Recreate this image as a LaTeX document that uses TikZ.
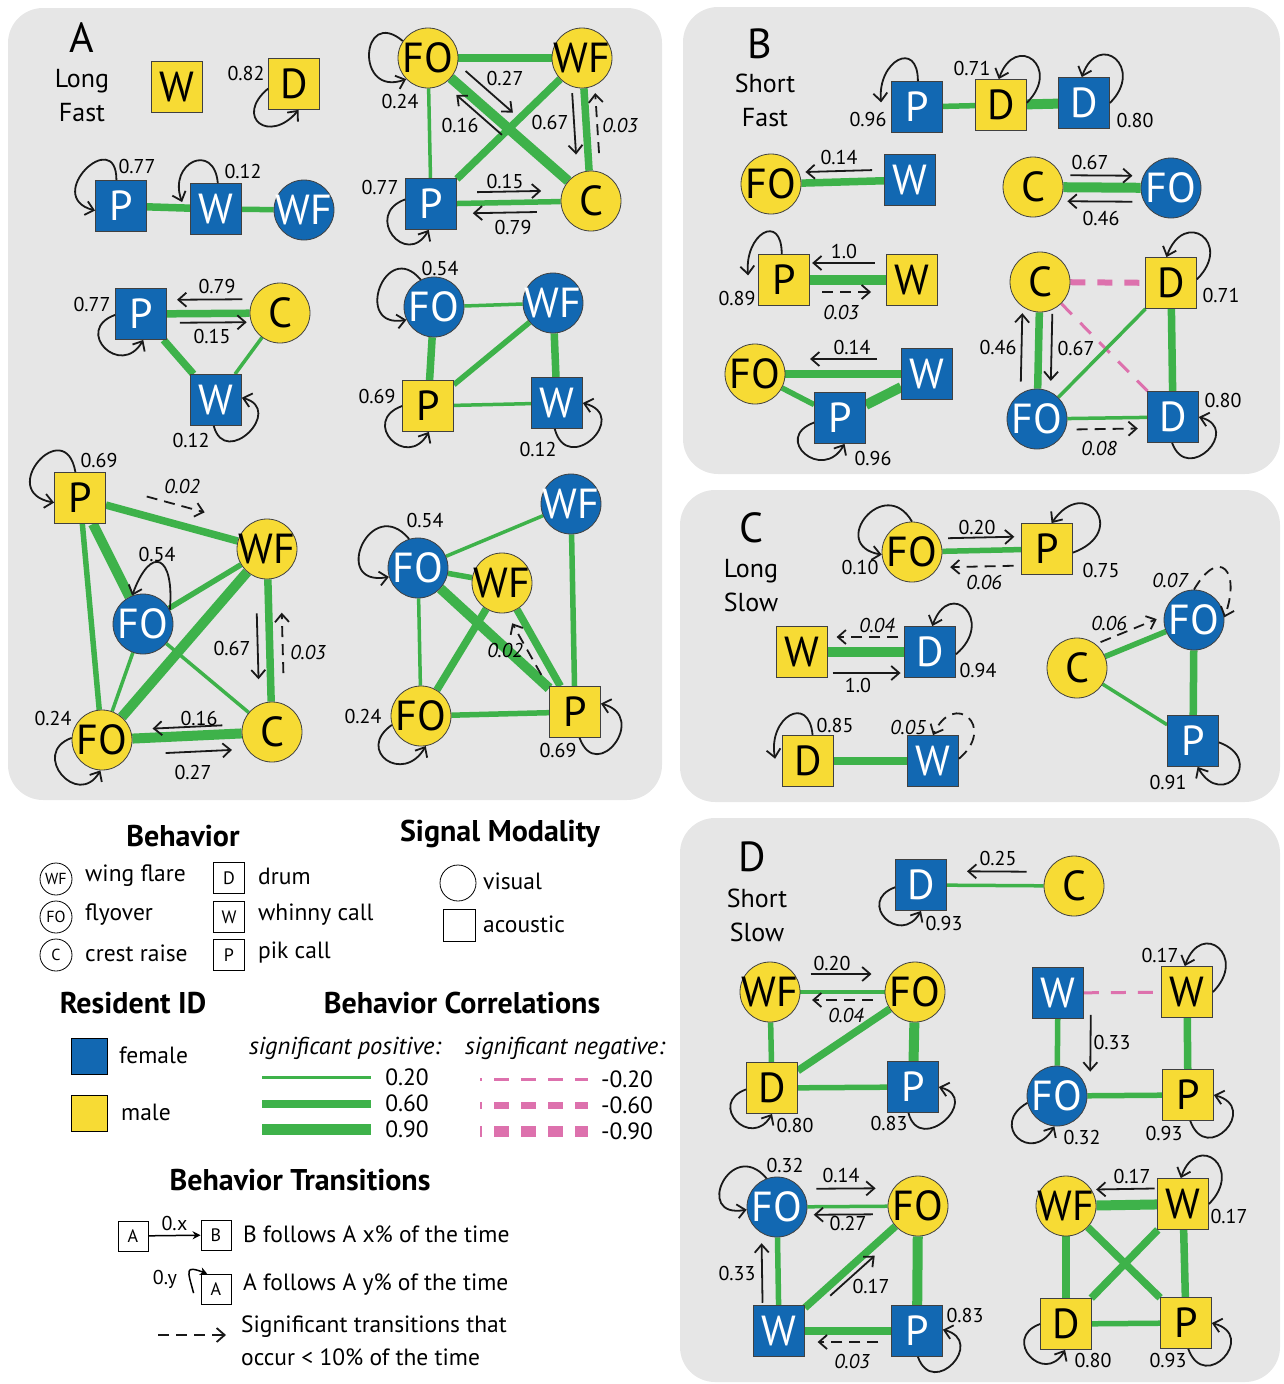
\documentclass[tikz,border=0pt]{standalone}
\usepackage{fontspec}
\setmainfont{PT Sans}
\usetikzlibrary{arrows.meta, calc}

\definecolor{fblue}{RGB}{18,104,178}
\definecolor{myell}{RGB}{247,219,52}
\definecolor{cgreen}{RGB}{62,178,74}
\definecolor{npink}{RGB}{221,113,173}
\definecolor{pgray}{RGB}{230,230,230}

\pgfdeclarelayer{panel}
\pgfdeclarelayer{edges}
\pgfsetlayers{panel,edges,main}

% transition arrow beside the line (from)--(to): [style]{from}{to}{t1}{t2}{offset}{label}
\newcommand{\trans}[7][tra]{%
  \draw[#1] ($(#2)!#4!(#3)!#6!90:(#3)$) -- ($(#2)!#5!(#3)!#6!90:(#3)$) #7;}

\tikzset{
  nbase/.style={draw=black!75, line width=0.8pt, inner sep=0pt, font=\fontsize{42}{42}\selectfont},
  sqn/.style={nbase, rectangle, minimum size=51pt},
  cin/.style={nbase, circle, minimum size=60pt, inner sep=-3pt},
  fsq/.style={sqn, fill=fblue, text=white},
  msq/.style={sqn, fill=myell},
  fci/.style={cin, fill=fblue, text=white},
  mci/.style={cin, fill=myell},
  cthin/.style={draw=cgreen, line width=3.5pt},
  cmid/.style={draw=cgreen, line width=5.5pt},
  cthick/.style={draw=cgreen, line width=7.5pt},
  cmax/.style={draw=cgreen, line width=10pt},
  nthin/.style={draw=npink, line width=3pt, dash pattern=on 15pt off 12pt},
  nmid/.style={draw=npink, line width=6pt, dash pattern=on 15pt off 12pt},
  tra/.style={draw=black!90, line width=1.8pt, -{Straight Barb[length=8pt,width=14pt]}},
  trd/.style={tra, dash pattern=on 11pt off 7pt},
  lp/.style={tra, distance=50pt},
  lpd/.style={lp, dash pattern=on 11pt off 7pt},
  lab/.style={font=\fontsize{20}{20}\selectfont, inner sep=0pt},
  labi/.style={font=\fontsize{20}{20}\selectfont\itshape, inner sep=0pt},
  ptitle/.style={font=\fontsize{42}{42}\selectfont},
  psub/.style={font=\fontsize{26}{34}\selectfont, align=center},
  head/.style={font=\fontsize{30}{30}\selectfont\bfseries},
  ltx/.style={font=\fontsize{23.5}{23.5}\selectfont, anchor=west, inner sep=0pt},
  lti/.style={font=\fontsize{24.5}{24.5}\selectfont\itshape, inner sep=0pt},
  lci/.style={draw=black, line width=0.8pt, circle, minimum size=32pt, inner sep=-2pt, font=\fontsize{16}{16}\selectfont},
  lsq/.style={draw=black, line width=0.8pt, rectangle, minimum size=31pt, inner sep=0pt, font=\fontsize{18}{18}\selectfont},
}

\begin{document}
\begin{tikzpicture}[x=1pt,y=1pt]
\useasboundingbox (0,0) rectangle (1284,-1384);

% panels
\begin{pgfonlayer}{panel}
\fill[pgray, rounded corners=35pt] (8,-8) rectangle (662,-800);
\fill[pgray, rounded corners=35pt] (683,-7) rectangle (1280,-474);
\fill[pgray, rounded corners=35pt] (680,-490) rectangle (1280,-802);
\fill[pgray, rounded corners=35pt] (680,-818) rectangle (1280,-1382);
\end{pgfonlayer}

\node[ptitle] (tiA) at (82,-38) {A};
\node[psub] (suA) at (82,-96) {Long\\Fast};
\node[ptitle] (tiB) at (760,-44) {B};
\node[psub] (suB) at (765,-100) {Short\\Fast};
\node[ptitle] (tiC) at (751,-528) {C};
\node[psub] (suC) at (751,-586) {Long\\Slow};
\node[ptitle] (tiD) at (752,-857) {D};
\node[psub] (suD) at (757,-915) {Short\\Slow};

% ---- A: long fast
\node[msq] (aW) at (177,-87) {W};
\node[msq] (aD) at (294,-84) {D};
\node[fsq] (bP) at (121,-206) {P};
\node[fsq] (bW) at (216,-209) {W};
\node[fci] (bWF) at (304,-210) {WF};
\node[mci] (cFO) at (428,-58) {FO};
\node[mci] (cWF) at (582,-58) {WF};
\node[fsq] (cP) at (431,-204) {P};
\node[mci] (cC) at (591,-201) {C};
\node[fsq] (dP) at (141,-314) {P};
\node[mci] (dC) at (280,-313) {C};
\node[fsq] (dW) at (216,-400) {W};
\node[fci] (eFO) at (434,-307) {FO};
\node[fci] (eWF) at (553,-303) {WF};
\node[msq] (eP) at (428,-406) {P};
\node[fsq] (eW) at (557,-403) {W};
\node[msq] (fP) at (80,-498) {P};
\node[mci] (fWF) at (267,-549) {WF};
\node[fci] (fFOb) at (143,-624) {FO};
\node[mci] (fFOy) at (102,-740) {FO};
\node[mci] (fC) at (272,-732) {C};
\node[fci] (gWF) at (571,-504) {WF};
\node[fci] (gFO) at (418,-568) {FO};
\node[mci] (gWFy) at (502,-583) {WF};
\node[mci] (gFOy) at (421,-716) {FO};
\node[msq] (gP) at (575,-712) {P};

% ---- B: short fast
\node[fsq] (hP) at (917,-107) {P};
\node[msq] (hD) at (1001,-105) {D};
\node[fsq] (hDb) at (1084,-103) {D};
\node[mci] (iFO) at (771,-184) {FO};
\node[fsq] (iW) at (910,-180) {W};
\node[mci] (jC) at (1033,-187) {C};
\node[fci] (jFO) at (1171,-188) {FO};
\node[msq] (kP) at (784,-280) {P};
\node[msq] (kW) at (912,-280) {W};
\node[mci] (lFO) at (755,-374) {FO};
\node[fsq] (lW) at (927,-374) {W};
\node[fsq] (lP) at (840,-418) {P};
\node[mci] (mC) at (1040,-282) {C};
\node[msq] (mD) at (1171,-283) {D};
\node[fci] (mFO) at (1037,-419) {FO};
\node[fsq] (mDb) at (1173,-417) {D};

% ---- C: long slow
\node[mci] (nFO) at (912,-552) {FO};
\node[msq] (nP) at (1047,-549) {P};
\node[msq] (oW) at (802,-652) {W};
\node[fsq] (oD) at (930,-652) {D};
\node[msq] (pD) at (808,-761) {D};
\node[fsq] (pW) at (933,-761) {W};
\node[fci] (qFO) at (1194,-620) {FO};
\node[mci] (qC) at (1077,-668) {C};
\node[fsq] (qP) at (1193,-741) {P};

% ---- D: short slow
\node[fsq] (rD) at (921,-885) {D};
\node[mci] (rC) at (1074,-886) {C};
\node[mci] (sWF) at (770,-992) {WF};
\node[mci] (sFO) at (915,-992) {FO};
\node[msq] (sD) at (772,-1088) {D};
\node[fsq] (sP) at (913,-1087) {P};
\node[fsq] (tW) at (1058,-993) {W};
\node[msq] (tWy) at (1187,-992) {W};
\node[fci] (tFO) at (1057,-1096) {FO};
\node[msq] (tP) at (1188,-1095) {P};
\node[fci] (uFO) at (777,-1207) {FO};
\node[mci] (uFOy) at (918,-1206) {FO};
\node[fsq] (uW) at (779,-1331) {W};
\node[fsq] (uP) at (917,-1331) {P};
\node[mci] (vWF) at (1066,-1206) {WF};
\node[msq] (vW) at (1183,-1204) {W};
\node[msq] (vD) at (1066,-1324) {D};
\node[msq] (vP) at (1186,-1323) {P};

% correlations
\begin{pgfonlayer}{edges}
\draw[cthick] (bP) -- (bW);
\draw[cmid] (bW) -- (bWF);
\draw[cthick] (cFO) -- (cWF);
\draw[cthin] (cFO) -- (cP);
\draw[cmax] (cFO) -- (cC);
\draw[cthick] (cWF) -- (cP);
\draw[cthick] (cWF) -- (cC);
\draw[cmid] (cP) -- (cC);
\draw[cthick] (dP) -- (dC);
\draw[cthick] (dP) -- (dW);
\draw[cthin] (dW) -- (dC);
\draw[cthin] (eFO) -- (eWF);
\draw[cthick] (eFO) -- (eP);
\draw[cmid] (eWF) -- (eP);
\draw[cthick] (eWF) -- (eW);
\draw[cthin] (eP) -- (eW);
\draw[cthick] (fP) -- (fWF);
\draw[cmax] (fP) -- (fFOb);
\draw[cmid] (fP) -- (fFOy);
\draw[cmid] (fFOb) -- (fWF);
\draw[cthin] (fFOb) -- (fFOy);
\draw[cthin] (fFOb) -- (fC);
\draw[cmax] (fWF) -- (fFOy);
\draw[cthick] (fWF) -- (fC);
\draw[cmax] (fFOy) -- (fC);
\draw[cthin] (gFO) -- (gWF);
\draw[cmid] (gFO) -- (gWFy);
\draw[cthin] (gFO) -- (gFOy);
\draw[cmax] (gFO) -- (gP);
\draw[cthick] (gWFy) -- (gFOy);
\draw[cthick] (gWFy) -- (gP);
\draw[cmid] (gWF) -- (gP);
\draw[cmid] (gFOy) -- (gP);
\draw[cmid] (hP) -- (hD);
\draw[cmax] (hD) -- (hDb);
\draw[cthick] (iFO) -- (iW);
\draw[cmax] (jC) -- (jFO);
\draw[cmax] (kP) -- (kW);
\draw[cthick] (lFO) -- (lW);
\draw[cmid] (lFO) -- (lP);
\draw[cmax] (lP) -- (lW);
\draw[nmid] (mC) -- (mD);
\draw[cthick] (mC) -- (mFO);
\draw[nthin] (mC) -- (mDb);
\draw[cthin] (mD) -- (mFO);
\draw[cthick] (mD) -- (mDb);
\draw[cthin] (mFO) -- (mDb);
\draw[cmid] (nFO) -- (nP);
\draw[cmax] (oW) -- (oD);
\draw[cthick] (pD) -- (pW);
\draw[cmid] (qC) -- (qFO);
\draw[cthick] (qFO) -- (qP);
\draw[cthin] (qC) -- (qP);
\draw[cthin] (rD) -- (rC);
\draw[cthin] (sWF) -- (sFO);
\draw[cmid] (sWF) -- (sD);
\draw[cthick] (sFO) -- (sD);
\draw[cmax] (sFO) -- (sP);
\draw[cmid] (sD) -- (sP);
\draw[nthin] (tW) -- (tWy);
\draw[cmid] (tW) -- (tFO);
\draw[cthick] (tWy) -- (tP);
\draw[cmid] (tFO) -- (tP);
\draw[cthin] (uFO) -- (uFOy);
\draw[cmid] (uFO) -- (uW);
\draw[cthick] (uFOy) -- (uW);
\draw[cmax] (uFOy) -- (uP);
\draw[cthick] (uW) -- (uP);
\draw[cmax] (vWF) -- (vW);
\draw[cthick] (vWF) -- (vD);
\draw[cthick] (vWF) -- (vP);
\draw[cthick] (vW) -- (vD);
\draw[cthick] (vW) -- (vP);
\draw[cmid] (vD) -- (vP);
\end{pgfonlayer}

% self transitions
\draw[lp,distance=45pt] (aD.190) to[out=220,in=230] (aD.-80) node[lab] at ($(aD)+(-48,11)$) {0.82};
\draw[lp,distance=55pt] (bP.100) to[out=90,in=165] (bP.190) node[lab] at ($(bP)+(16,40)$) {0.77};
\draw[lp,distance=42pt] (bW.86) to[out=95,in=110] ([xshift=-8pt]bW.165) node[lab] at ($(bW)+(27,38)$) {0.12};
\draw[lp,distance=55pt] (cFO.146) to[out=140,in=200] (cFO.224) node[lab] at ($(cFO)+(-28,-43)$) {0.24};
\draw[lp,distance=45pt] (cP.170) to[out=200,in=240] (cP.-95) node[lab] at ($(cP)+(-51,17)$) {0.77};
\draw[lp,distance=45pt] (dP.182) to[out=200,in=240] (dP.-85) node[lab] at ($(dP)+(-49,10)$) {0.77};
\draw[lp,distance=45pt] (dW.-95) to[out=-75,in=-15] (dW.5) node[lab] at ($(dW)+(-25,-40)$) {0.12};
\draw[lp,distance=55pt] (eFO.116) to[out=130,in=190] (eFO.205) node[lab] at ($(eFO)+(6,39)$) {0.54};
\draw[lp,distance=45pt] (eP.180) to[out=200,in=240] (eP.-88) node[lab] at ($(eP)+(-51,10)$) {0.69};
\draw[lp] (eW.-95) to[out=-75,in=-15] (eW.0) node[lab] at ($(eW)+(-19,-46)$) {0.12};
\draw[lp,distance=60pt] (fP.100) to[out=100,in=170] (fP.190) node[lab] at ($(fP)+(19,38)$) {0.69};
\draw[lp,distance=55pt] (fFOb.28) to[out=85,in=70] (fFOb.111) node[lab] at ($(fFOb)+(14,70)$) {0.54};
\draw[lp,distance=45pt] (fFOy.176) to[out=200,in=240] (fFOy.267) node[lab] at ($(fFOy)+(-49,22)$) {0.24};
\draw[lp,distance=60pt] (gFO.107) to[out=130,in=190] (gFO.197) node[lab] at ($(gFO)+(7,48)$) {0.54};
\draw[lp,distance=45pt] (gFOy.197) to[out=215,in=240] (gFOy.279) node[lab] at ($(gFOy)+(-58,0)$) {0.24};
\draw[lp] (gP.-80) to[out=-70,in=-15] (gP.18) node[lab] at ($(gP)+(-17,-38)$) {0.69};
\draw[lp,distance=42pt] (hP.88) to[out=90,in=95] ([xshift=-10pt]hP.170) node[lab] at ($(hP)+(-49,-12)$) {0.96};
\draw[lp] (hD.5) to[out=45,in=70] (hD.95) node[lab] at ($(hD)+(-29,37)$) {0.71};
\draw[lp] (hDb.0) to[out=45,in=70] (hDb.95) node[lab] at ($(hDb)+(51,-17)$) {0.80};
\draw[lp,distance=42pt] (kP.95) to[out=90,in=95] ([xshift=-10pt]kP.170) node[lab] at ($(kP)+(-47,-18)$) {0.89};
\draw[lp,distance=45pt] (lP.190) to[out=200,in=240] (lP.-80) node[lab] at ($(lP)+(33,-40)$) {0.96};
\draw[lp,distance=52pt] (mD.8) to[out=45,in=70] (mD.100) node[lab] at ($(mD)+(50,-12)$) {0.71};
\draw[lp,distance=45pt] (mDb.-92) to[out=-70,in=-15] (mDb.0) node[lab] at ($(mDb)+(50,17)$) {0.80};
\draw[lp,distance=55pt] (nFO.90) to[out=120,in=170] (nFO.185) node[lab] at ($(nFO)+(-52,-15)$) {0.10};
\draw[lp,distance=60pt] (nP.-8) to[out=20,in=55] (nP.80) node[lab] at ($(nP)+(54,-21)$) {0.75};
\draw[lp,distance=52pt] (oD.-5) to[out=40,in=70] (oD.85) node[lab] at ($(oD)+(48,-18)$) {0.94};
\draw[lp,distance=42pt] (pD.80) to[out=95,in=100] ([xshift=-7pt]pD.175) node[lab] at ($(pD)+(27,36)$) {0.85};
\draw[lpd] (pW.5) to[out=40,in=65] (pW.90) node[labi] at ($(pW)+(-25,34)$) {0.05};
\draw[lpd] (qFO.90) to[out=60,in=70] (qFO.5) node[labi] at ($(qFO)+(-24,40)$) {0.07};
\draw[lp] (qP.-3) to[out=-20,in=-60] (qP.-80) node[lab] at ($(qP)+(-25,-41)$) {0.91};
\draw[lp,distance=42pt] (rD.185) to[out=200,in=240] (rD.-90) node[lab] at ($(rD)+(23,-38)$) {0.93};
\draw[lp,distance=42pt] (sD.183) to[out=200,in=240] (sD.-90) node[lab] at ($(sD)+(23,-37)$) {0.80};
\draw[lp,distance=45pt] (sP.-100) to[out=-75,in=-15] (sP.0) node[lab] at ($(sP)+(-24,-36)$) {0.83};
\draw[lp] (tWy.0) to[out=45,in=70] (tWy.95) node[lab] at ($(tWy)+(-27,37)$) {0.17};
\draw[lp,distance=45pt] (tFO.193) to[out=210,in=240] (tFO.265) node[lab] at ($(tFO)+(25,-41)$) {0.32};
\draw[lp,distance=48pt] (tP.-85) to[out=-70,in=-15] (tP.0) node[lab] at ($(tP)+(-24,-38)$) {0.93};
\draw[lp,distance=55pt] (uFO.110) to[out=130,in=190] (uFO.185) node[lab] at ($(uFO)+(8,42)$) {0.32};
\draw[lp,distance=45pt] (uP.-88) to[out=-70,in=-15] (uP.3) node[lab] at ($(uP)+(48,16)$) {0.83};
\draw[lp] (vW.0) to[out=45,in=70] (vW.95) node[lab] at ($(vW)+(46,-12)$) {0.17};
\draw[lp,distance=42pt] (vD.180) to[out=200,in=240] (vD.-92) node[lab] at ($(vD)+(27,-36)$) {0.80};
\draw[lp,distance=48pt] (vP.-85) to[out=-70,in=-15] (vP.0) node[lab] at ($(vP)+(-18,-37)$) {0.93};

% transitions between behaviors
\trans{cFO}{cC}{.17}{.46}{15pt}{node[lab] at ($(cFO)+(77,-20)$) {0.27}}
\trans{cC}{cFO}{.51}{.79}{9pt}{node[lab] at ($(cC)+(-131,76)$) {0.16}}
\trans{cWF}{cC}{.24}{.67}{-12pt}{node[lab] at ($(cWF)+(-32,-64)$) {0.67}}
\trans[trd]{cC}{cWF}{.33}{.75}{-11pt}{node[labi] at ($(cC)+(29,76)$) {0.03}}
\trans{cP}{cC}{.29}{.69}{11pt}{node[lab] at ($(cP)+(74,23)$) {0.15}}
\trans{cC}{cP}{.34}{.74}{10pt}{node[lab] at ($(cC)+(-78,-26)$) {0.79}}
\trans{dC}{dP}{.27}{.74}{-14pt}{node[lab] at ($(dC)+(-63,27)$) {0.79}}
\trans{dP}{dC}{.28}{.76}{-9pt}{node[lab] at ($(dP)+(71,-22)$) {0.15}}
\trans[trd]{fP}{fWF}{.33}{.64}{19pt}{node[labi] at ($(fP)+(102,12)$) {0.02}}
\trans{fWF}{fC}{.35}{.71}{-12pt}{node[lab] at ($(fWF)+(-35,-99)$) {0.67}}
\trans[trd]{fC}{fWF}{.32}{.65}{-13pt}{node[labi] at ($(fC)+(36,80)$) {0.03}}
\trans{fC}{fFOy}{.29}{.70}{-9pt}{node[lab] at ($(fC)+(-73,14)$) {0.16}}
\trans{fFOy}{fC}{.37}{.76}{-16pt}{node[lab] at ($(fFOy)+(91,-32)$) {0.27}}
\trans[trd]{gP}{gWFy}{.33}{.73}{11pt}{node[labi] at ($(gP)+(-70,62)$) {0.02}}
\trans{iW}{iFO}{.27}{.75}{-11pt}{node[lab] at ($(iW)+(-71,23)$) {0.14}}
\trans{jC}{jFO}{.27}{.72}{12pt}{node[lab] at ($(jC)+(57,25)$) {0.67}}
\trans{jFO}{jC}{.28}{.75}{14pt}{node[lab] at ($(jFO)+(-70,-30)$) {0.46}}
\trans{kW}{kP}{.29}{.78}{-17pt}{node[lab] at ($(kW)+(-68,29)$) {1.0}}
\trans[trd]{kP}{kW}{.30}{.68}{-12pt}{node[labi] at ($(kP)+(57,-32)$) {0.03}}
\trans{lW}{lFO}{.29}{.68}{-15pt}{node[lab] at ($(lW)+(-75,27)$) {0.14}}
\trans{mFO}{mC}{.27}{.77}{17pt}{node[lab] at ($(mFO)+(-39,72)$) {0.46}}
\trans{mC}{mFO}{.23}{.72}{13pt}{node[lab] at ($(mC)+(36,-66)$) {0.67}}
\trans[trd]{mFO}{mDb}{.29}{.74}{-11pt}{node[labi] at ($(mFO)+(62,-29)$) {0.08}}
\trans{nFO}{nP}{.27}{.76}{13pt}{node[lab] at ($(nFO)+(65,25)$) {0.20}}
\trans[trd]{nP}{nFO}{.25}{.72}{16pt}{node[labi] at ($(nP)+(-63,-33)$) {0.06}}
\trans[trd]{oD}{oW}{.25}{.73}{-15pt}{node[labi] at ($(oD)+(-53,27)$) {0.04}}
\trans{oW}{oD}{.24}{.77}{-21pt}{node[lab] at ($(oW)+(56,-33)$) {1.0}}
\trans[trd]{qC}{qFO}{.25}{.73}{15pt}{node[labi] at ($(qC)+(32,45)$) {0.06}}
\trans{rC}{rD}{.31}{.70}{-14pt}{node[lab] at ($(rC)+(-76,28)$) {0.25}}
\trans{sWF}{sFO}{.28}{.70}{18pt}{node[lab] at ($(sWF)+(62,29)$) {0.20}}
\trans[trd]{sFO}{sWF}{.29}{.71}{8pt}{node[labi] at ($(sFO)+(-69,-23)$) {0.04}}
\trans{tW}{tFO}{.21}{.76}{33pt}{node[lab] at ($(tW)+(54,-49)$) {0.33}}
\trans{uFO}{uFOy}{.28}{.70}{18pt}{node[lab] at ($(uFO)+(64,32)$) {0.14}}
\trans{uFOy}{uFO}{.32}{.74}{8pt}{node[lab] at ($(uFOy)+(-70,-17)$) {0.27}}
\trans{uW}{uFO}{.23}{.71}{16pt}{node[lab] at ($(uW)+(-42,58)$) {0.33}}
\trans{uW}{uFOy}{.33}{.65}{-8pt}{node[lab] at ($(uW)+(92,45)$) {0.17}}
\trans[trd]{uP}{uW}{.28}{.72}{11pt}{node[labi] at ($(uP)+(-65,-30)$) {0.03}}
\trans{vW}{vWF}{.24}{.74}{-16pt}{node[lab] at ($(vW)+(-51,28)$) {0.17}}

% ---- legend
\node[head] (hBeh) at (183,-836) {Behavior};
\node[head] (hSig) at (500,-834) {Signal Modality};
\node[lci] (kWF) at (56,-879) {WF};
\node[lci] (kFO) at (56,-917) {FO};
\node[lci] (kC) at (56,-955) {C};
\node[ltx] (xWF) at (85,-876) {wing flare};
\node[ltx] (xFO) at (85,-915) {flyover};
\node[ltx] (xC) at (85,-953) {crest raise};
\node[lsq] (kD) at (229,-878) {D};
\node[lsq] (kW) at (229,-917) {W};
\node[lsq] (kP) at (229,-955) {P};
\node[ltx] (xD) at (258,-876) {drum};
\node[ltx] (xW) at (258,-915) {whinny call};
\node[ltx] (xP) at (258,-953) {pik call};
\node[lci, minimum size=36pt] (kVis) at (458,-883) {};
\node[lsq, minimum size=32pt] (kAc) at (459,-925) {};
\node[ltx] (xVis) at (483,-881) {visual};
\node[ltx] (xAc) at (483,-924) {acoustic};

\node[head] (hRes) at (133,-1003) {Resident ID};
\node[head] (hCor) at (462,-1003) {Behavior Correlations};
\node[lsq, fill=fblue, minimum size=36pt] (kFem) at (89,-1056) {};
\node[lsq, fill=myell, minimum size=36pt] (kMal) at (89,-1113) {};
\node[ltx] (xFem) at (119,-1055) {female};
\node[ltx] (xMal) at (121,-1112) {male};
\node[lti] (xPos) at (345,-1048) {significant positive:};
\node[lti] (xNeg) at (565,-1048) {significant negative:};
\coordinate (g1a) at (262,-1077); \coordinate (g1b) at (371,-1077);
\coordinate (g2a) at (262,-1104); \coordinate (g2b) at (371,-1104);
\coordinate (g3a) at (262,-1129); \coordinate (g3b) at (371,-1129);
\draw[cgreen, line width=3pt] (g1a) -- (g1b);
\draw[cgreen, line width=8pt] (g2a) -- (g2b);
\draw[cgreen, line width=11pt] (g3a) -- (g3b);
\node[ltx, anchor=center] (v1) at (407,-1077) {0.20};
\node[ltx, anchor=center] (v2) at (407,-1103) {0.60};
\node[ltx, anchor=center] (v3) at (407,-1129) {0.90};
\coordinate (n1a) at (480,-1079); \coordinate (n1b) at (588,-1079);
\coordinate (n2a) at (480,-1105); \coordinate (n2b) at (588,-1105);
\coordinate (n3a) at (480,-1131); \coordinate (n3b) at (588,-1131);
\draw[npink, line width=3pt, dash pattern=on 15pt off 12pt, dash phase=13pt] (n1a) -- (n1b);
\draw[npink, line width=7pt, dash pattern=on 15pt off 12pt, dash phase=13pt] (n2a) -- (n2b);
\draw[npink, line width=11pt, dash pattern=on 15pt off 12pt, dash phase=13pt] (n3a) -- (n3b);
\node[ltx, anchor=center] (w1) at (627,-1079) {-0.20};
\node[ltx, anchor=center] (w2) at (627,-1105) {-0.60};
\node[ltx, anchor=center] (w3) at (627,-1131) {-0.90};

\node[head] (hTr) at (300,-1180) {Behavior Transitions};
\node[lsq, minimum size=30pt] (tA) at (133,-1236) {A};
\node[lsq, minimum size=30pt] (tB) at (216,-1235) {B};
\draw[line width=1.5pt, -{Stealth[length=8pt,width=8pt]}] (tA) -- (tB) node[lab, midway, above=4pt] {0.x};
\node[ltx] (xAB) at (243,-1234) {B follows A x\% of the time};
\node[lsq, minimum size=30pt] (tA2) at (216,-1289) {A};
\draw[line width=1.5pt, -{Stealth[length=7pt,width=8pt]}] ([xshift=-7pt]tA2.195) to[out=105,in=160,distance=24pt] (tA2.120) node[lab] at ($(tA2)+(-51,10)$) {0.y};
\node[ltx] (xAA) at (243,-1285) {A follows A y\% of the time};
\coordinate (dA) at (158,-1335); \coordinate (dB) at (226,-1335);
\draw[trd] (dA) -- (dB);
\node[ltx] (xSig) at (241,-1327) {Significant transitions that};
\node[ltx] (xOcc) at (241,-1357) {occur < 10\% of the time};
\end{tikzpicture}
\end{document}
